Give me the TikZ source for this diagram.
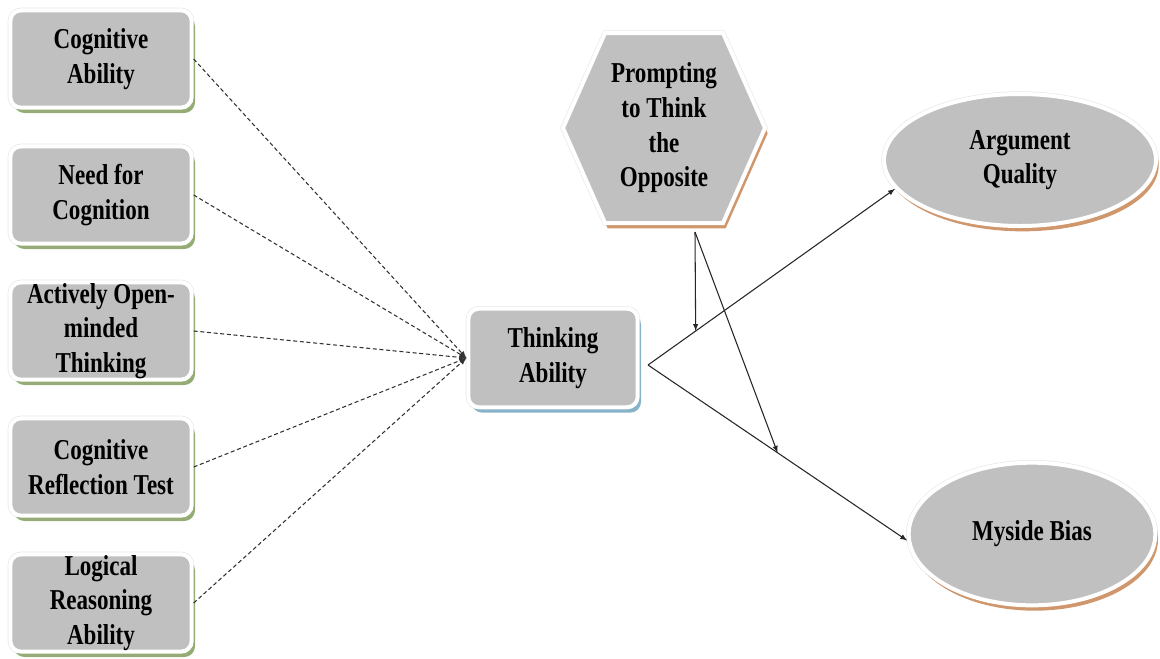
\documentclass[tikz,border=0pt]{standalone}
\usepackage{fontspec}
\setmainfont{Liberation Serif}[FakeStretch=0.8]
\usepackage{tikz}
\usetikzlibrary{positioning,shapes.geometric,shadows,arrows}

\definecolor{boxgray}{RGB}{192,192,192}
\definecolor{greenshade}{RGB}{150,172,118}
\definecolor{blueshade}{RGB}{135,178,200}
\definecolor{tanshade}{RGB}{208,150,108}
\newcommand{\boxfont}{\fontsize{21.6pt}{26pt}\selectfont\bfseries}

\begin{document}
\begin{tikzpicture}[
  x=0.75pt, y=-0.75pt,
  node distance=26pt,
  base/.style={fill=boxgray, draw=white, line width=3pt, align=center,
    font=\boxfont, inner sep=0pt, preaction={draw=gray!18, line width=4pt}},
  predictor/.style={base, rectangle, rounded corners=8pt,
    minimum width=136pt, minimum height=73pt,
    drop shadow={shadow xshift=2.5pt, shadow yshift=-4pt, fill=greenshade, opacity=1}},
  mediator/.style={base, rectangle, rounded corners=8pt,
    minimum width=127pt, minimum height=74pt,
    drop shadow={shadow xshift=2.5pt, shadow yshift=-4pt, fill=blueshade, opacity=1}},
  outcome/.style={base, ellipse,
    drop shadow={shadow xshift=2pt, shadow yshift=-4pt, fill=tanshade, opacity=1}},
  cue/.style={-latex, dash pattern=on 3pt off 2pt, line width=0.8pt, black!80},
  link/.style={-latex, line width=0.8pt, black!85},
]
\useasboundingbox (0,0) rectangle (1160,658);

% predictors
\node[predictor] (cogab) at (101,59) {Cognitive\\Ability};
\node[predictor, below=of cogab] (nfc) {Need for\\Cognition};
\node[predictor, below=of nfc] (aot) {Actively Open-\\minded\\Thinking};
\node[predictor, below=of aot] (crt) {Cognitive\\Reflection Test};
\node[predictor, below=of crt] (lra) {Logical\\Reasoning\\Ability};

% mediator and outcomes
\node[mediator] (think) at (553,358) {Thinking\\Ability};
\node[outcome, minimum width=204pt, minimum height=99pt] (aq) at (1020,160) {Argument\\Quality};
\node[outcome, minimum width=185pt, minimum height=107pt] (mb) at (1032,534) {Myside Bias};

% moderator
\coordinate (hexc) at (664,128);
\draw[base, drop shadow={shadow xshift=2pt, shadow yshift=-4pt, fill=tanshade, opacity=1}]
  ([shift={(-101,0)}]hexc) -- ++(42,-95) -- ++(118,0) -- ++(42,95)
  -- ++(-42,95) -- ++(-118,0) -- cycle;
\node[font=\boxfont, align=center] (pto) at (hexc) {Prompting\\to Think\\the\\Opposite};

\coordinate (fork) at (648,365);
\coordinate (modtop) at (695,232);

\foreach \n in {cogab,nfc,aot,crt,lra}
  \draw[cue, arrows={-latex[scale=1.4]}] (\n.east) -- (think.west);

\draw[link] (fork) -- (aq.193) coordinate[pos=0.193] (onaq);
\draw[link] (fork) -- (mb.183) coordinate[pos=0.5] (onmb);
\draw[link] (modtop) -- (onaq);
\draw[link] (modtop) -- (onmb);
\end{tikzpicture}
\end{document}
